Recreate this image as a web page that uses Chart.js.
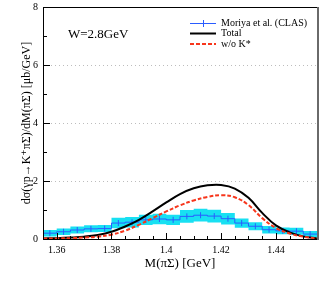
<!DOCTYPE html>
<html>
<head>
<meta charset="utf-8">
<script src="https://cdn.jsdelivr.net/npm/chart.js@4.4.1/dist/chart.umd.min.js"></script>
<style>
  html, body { margin: 0; padding: 0; background: #fff; }
</style>
</head>
<body>
<canvas id="myChart" width="327" height="284"></canvas>
<script>
// histogram bin edges (GeV) and CLAS values
const binEdges = [1.355, 1.36, 1.365, 1.37, 1.375, 1.38, 1.385, 1.39, 1.395, 1.40, 1.405,
                  1.41, 1.415, 1.42, 1.425, 1.43, 1.435, 1.44, 1.445, 1.45, 1.455];
const clasValues = [0.20, 0.25, 0.31, 0.35, 0.36, 0.55, 0.58, 0.66, 0.69, 0.66,
                    0.78, 0.82, 0.79, 0.70, 0.55, 0.44, 0.32, 0.28, 0.27, 0.17];
const clasErrors = [0.11, 0.11, 0.12, 0.12, 0.12, 0.18, 0.18, 0.18, 0.18, 0.18,
                    0.22, 0.22, 0.22, 0.20, 0.16, 0.14, 0.13, 0.12, 0.12, 0.11];

// model curves
const curveX = [1.355, 1.36, 1.365, 1.37, 1.375, 1.38, 1.385, 1.39, 1.395, 1.40, 1.405,
                1.41, 1.415, 1.42, 1.425, 1.43, 1.435, 1.44, 1.445, 1.45, 1.455];
const totalY = [0.02, 0.03, 0.05, 0.08, 0.14, 0.25, 0.43, 0.66, 0.95, 1.26, 1.55,
                1.75, 1.85, 1.86, 1.74, 1.42, 0.90, 0.47, 0.23, 0.09, 0.02];
const noKstarY = [0.01, 0.02, 0.03, 0.05, 0.08, 0.15, 0.29, 0.49, 0.72, 0.95, 1.16,
                  1.33, 1.45, 1.51, 1.44, 1.17, 0.72, 0.38, 0.19, 0.08, 0.02];

// axis ticks
const xTickValues = [1.36, 1.38, 1.40, 1.42, 1.44];
const yTickValues = [0, 2, 4, 6, 8];

const legendLabels = ['Moriya et al. (CLAS)', 'Total', 'w/o K*'];
const energyLabel = 'W=2.8GeV';

const blue = '#2a5cff';
const cyan = '#18e0f2';
const red = '#f7361c';
const serif = '"Liberation Serif", "DejaVu Serif", serif';

const n = clasValues.length;
const stepPts = arr => binEdges.map((e, i) => ({x: e, y: arr[Math.min(i, n - 1)]}));
const lowBand = stepPts(clasValues.map((v, i) => Math.max(v - clasErrors[i], 0)));
const highBand = stepPts(clasValues.map((v, i) => v + clasErrors[i]));
const histo = stepPts(clasValues);
const centers = clasValues.map((v, i) => ({x: (binEdges[i] + binEdges[i + 1]) / 2, y: v}));

// frame, inward ticks, legend and label
const decorations = {
  id: 'decorations',
  afterDraw(chart) {
    const {ctx, chartArea: a, scales: {x, y}} = chart;
    ctx.save();
    ctx.strokeStyle = '#000';
    ctx.lineWidth = 1;
    ctx.beginPath();
    for (let i = 0; i <= 20; i++) {
      const px = Math.round(x.getPixelForValue(1.355 + i * 0.005)) + 0.5;
      const len = i % 4 === 1 ? 6 : 3;
      ctx.moveTo(px, a.bottom);
      ctx.lineTo(px, a.bottom - len);
    }
    for (let v = 0; v <= 8; v++) {
      const py = Math.round(y.getPixelForValue(v)) + 0.5;
      const len = v % 2 === 0 ? 7 : 4;
      ctx.moveTo(a.left, py);
      ctx.lineTo(a.left + len, py);
    }
    ctx.stroke();

    // frame
    ctx.beginPath();
    ctx.moveTo(a.right, a.top + 0.5);
    ctx.lineTo(a.left + 0.5, a.top + 0.5);
    ctx.lineTo(a.left + 0.5, a.bottom + 0.5);
    ctx.lineTo(a.right, a.bottom + 0.5);
    ctx.stroke();
    ctx.strokeStyle = '#6a6a6a';
    ctx.lineWidth = 2;
    ctx.beginPath();
    ctx.moveTo(a.right + 1, a.top);
    ctx.lineTo(a.right + 1, a.bottom + 1);
    ctx.stroke();

    // W label
    ctx.fillStyle = '#000';
    ctx.font = '13px ' + serif;
    ctx.textBaseline = 'middle';
    ctx.fillText(energyLabel, 68, 35);

    // legend
    ctx.font = '10px ' + serif;
    const lx0 = 190, lx1 = 216, tx = 221;
    ctx.strokeStyle = blue;
    ctx.lineWidth = 1;
    ctx.beginPath();
    ctx.moveTo(lx0, 23.5); ctx.lineTo(lx1, 23.5);
    ctx.moveTo(203.5, 20); ctx.lineTo(203.5, 27);
    ctx.stroke();
    ctx.fillText(legendLabels[0], tx, 23);

    ctx.strokeStyle = '#000';
    ctx.lineWidth = 2;
    ctx.beginPath();
    ctx.moveTo(lx0, 33.5); ctx.lineTo(lx1, 33.5);
    ctx.stroke();
    ctx.fillText(legendLabels[1], tx, 33);

    ctx.strokeStyle = red;
    ctx.setLineDash([4, 2]);
    ctx.beginPath();
    ctx.moveTo(lx0, 44); ctx.lineTo(lx1, 44);
    ctx.stroke();
    ctx.fillText(legendLabels[2], tx, 44);
    ctx.restore();
  }
};

const ctx = document.getElementById('myChart');
const myChart = new Chart(ctx, {
  type: 'line',
  data: {
    datasets: [
      {data: lowBand, stepped: true, borderWidth: 0, pointRadius: 0, fill: false, order: 6},
      {data: highBand, stepped: true, borderWidth: 0, pointRadius: 0, fill: '-1',
       backgroundColor: cyan, order: 5},
      {data: histo, stepped: true, borderColor: blue, borderWidth: 1, pointRadius: 0, fill: false, order: 4},
      {data: centers, showLine: false, pointStyle: 'line', rotation: 90, pointRadius: 3,
       borderColor: blue, borderWidth: 1, order: 3},
      {data: curveX.map((v, i) => ({x: v, y: totalY[i]})), borderColor: '#000', borderWidth: 2,
       pointRadius: 0, tension: 0.4, fill: false, order: 2},
      {data: curveX.map((v, i) => ({x: v, y: noKstarY[i]})), borderColor: red, borderWidth: 2,
       borderDash: [4, 2], pointRadius: 0, tension: 0.4, fill: false, order: 1}
    ]
  },
  options: {
    responsive: false,
    animation: false,
    events: [],
    layout: {padding: {top: 7, right: 10, bottom: 0, left: 0}},
    plugins: {legend: {display: false}, tooltip: {enabled: false}},
    scales: {
      x: {
        type: 'linear',
        min: 1.355,
        max: 1.455,
        offset: false,
        afterBuildTicks: s => { s.ticks = xTickValues.map(v => ({value: v})); },
        afterFit: s => { s.height = 45; s.paddingLeft = 0; s.paddingRight = 0; },
        grid: {display: false, drawTicks: false},
        border: {display: false},
        ticks: {
          color: '#000', padding: 5, maxRotation: 0, autoSkip: false,
          font: {family: serif, size: 10},
          callback: v => String(+v.toFixed(2))
        },
        title: {
          display: true, text: 'M(πΣ) [GeV]', color: '#000',
          font: {family: serif, size: 13}, padding: {top: 0, bottom: 13}
        }
      },
      y: {
        min: 0,
        max: 8,
        afterBuildTicks: s => { s.ticks = yTickValues.map(v => ({value: v})); },
        afterFit: s => { s.width = 43; s.paddingTop = 0; s.paddingBottom = 0; },
        grid: {
          drawTicks: false,
          color: c => (c.tick && c.tick.value > 0 && c.tick.value < 8) ? '#bdbdbd' : 'rgba(0,0,0,0)'
        },
        border: {display: false, dash: [1, 3]},
        ticks: {color: '#000', padding: 5, font: {family: serif, size: 10}},
        title: {
          display: true, text: 'dσ(γp→K⁺πΣ)/dM(πΣ) [μb/GeV]', color: '#000',
          font: {family: serif, size: 12}, padding: {top: 20, bottom: 0}
        }
      }
    }
  },
  plugins: [decorations]
});
</script>
</body>
</html>
